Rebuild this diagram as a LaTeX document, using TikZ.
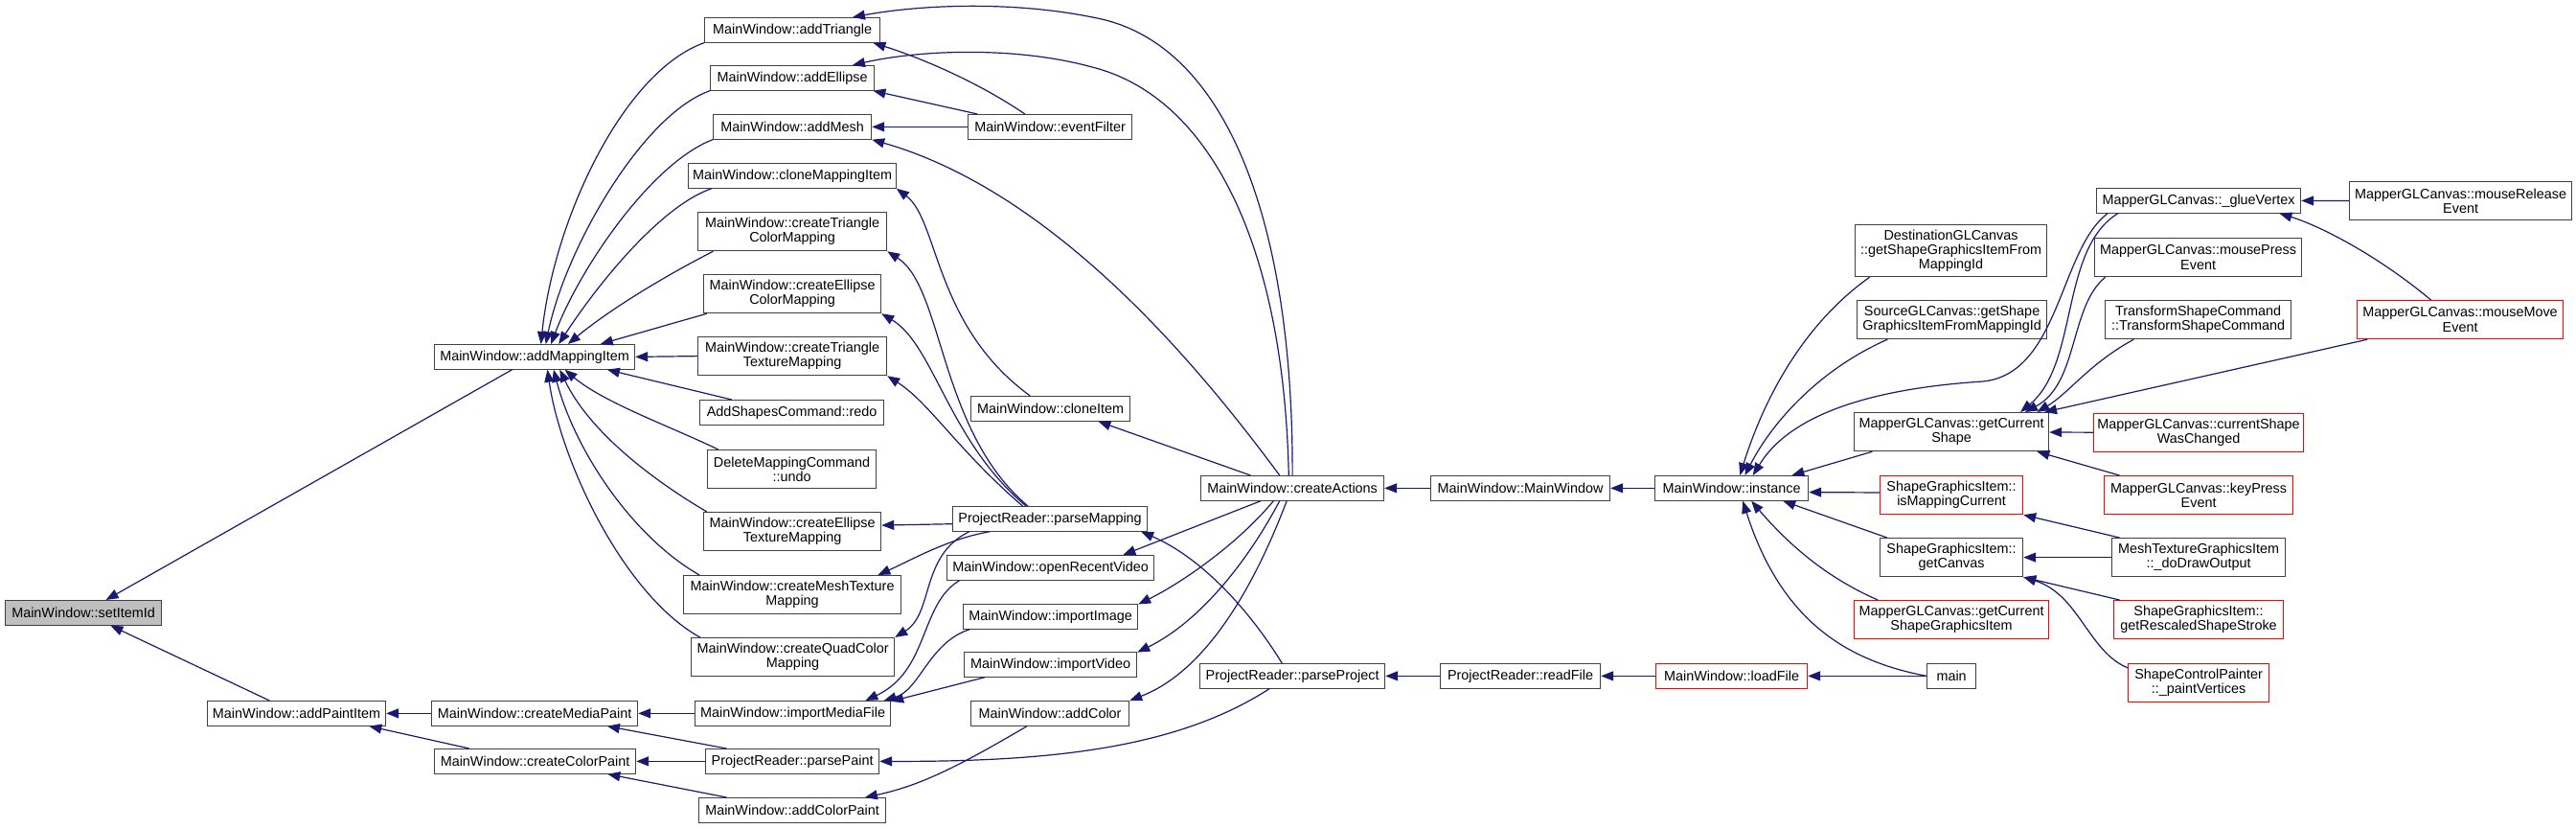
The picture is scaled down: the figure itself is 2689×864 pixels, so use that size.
\documentclass[tikz,border=0pt]{standalone}
\usepackage{fontspec}
\setmainfont{Liberation Sans}
\usetikzlibrary{arrows.meta}
\definecolor{edgeblue}{HTML}{191970}

\begin{document}
\begin{tikzpicture}[x=0.5pt,y=-0.5pt,
    fn/.style={draw=black!75, line width=0.6pt, fill=white, anchor=north west, inner sep=0pt,
      minimum height=12.75pt, align=center, font=\fontsize{7.2}{7.6}\selectfont},
    fnred/.style={fn, draw=red},
    cl/.style={draw=edgeblue, line width=0.6pt, -{Triangle[length=6.5pt,width=5pt]}}]
    \useasboundingbox (0,0) rectangle (2689,864);
    % first columns
    \node[fn, fill=black!25, minimum width=81.5pt] (setItemId) at (5,626) {MainWindow::setItemId};
    \node[fn, minimum width=104.5pt] (mapItem) at (453,359) {MainWindow::addMappingItem};
    \node[fn, minimum width=93pt] (addPaintItem) at (216,731) {MainWindow::addPaintItem};
    \node[fn, minimum width=107.5pt] (createMediaPaint) at (450,731) {MainWindow::createMediaPaint};
    \node[fn, minimum width=105pt] (createColorPaint) at (453,781) {MainWindow::createColorPaint};
    % third column
    \node[fn, minimum width=91.5pt] (addTriangle) at (735,18) {MainWindow::addTriangle};
    \node[fn, minimum width=85.5pt] (addEllipse) at (741,68) {MainWindow::addEllipse};
    \node[fn, minimum width=82.5pt] (addMesh) at (744,119) {MainWindow::addMesh};
    \node[fn, minimum width=108.5pt] (cloneMappingItem) at (718,170) {MainWindow::cloneMappingItem};
    \node[fn, minimum width=98.5pt, minimum height=20pt] (createTriColor) at (728,221) {MainWindow::createTriangle\\ColorMapping};
    \node[fn, minimum width=92.5pt, minimum height=20pt] (createEllColor) at (734,286) {MainWindow::createEllipse\\ColorMapping};
    \node[fn, minimum width=98.5pt, minimum height=20pt] (createTriTexture) at (728,351) {MainWindow::createTriangle\\TextureMapping};
    \node[fn, minimum width=96pt] (addShapesRedo) at (730,417) {AddShapesCommand::redo};
    \node[fn, minimum width=88pt, minimum height=20pt] (deleteUndo) at (738,469) {DeleteMappingCommand\\::undo};
    \node[fn, minimum width=92.5pt, minimum height=20pt] (createEllTexture) at (734,534) {MainWindow::createEllipse\\TextureMapping};
    \node[fn, minimum width=113.5pt, minimum height=20pt] (createMeshTexture) at (713,600) {MainWindow::createMeshTexture\\Mapping};
    \node[fn, minimum width=106pt, minimum height=20pt] (createQuadColor) at (721,665) {MainWindow::createQuadColor\\Mapping};
    \node[fn, minimum width=102pt] (importMediaFile) at (725,731) {MainWindow::importMediaFile};
    \node[fn, minimum width=90.5pt] (parsePaint) at (736,781) {ProjectReader::parsePaint};
    \node[fn, minimum width=97.5pt] (addColorPaint) at (729,832) {MainWindow::addColorPaint};
    % fourth column
    \node[fn, minimum width=85.5pt] (eventFilter) at (1010,119) {MainWindow::eventFilter};
    \node[fn, minimum width=83pt] (cloneItem) at (1013,413) {MainWindow::cloneItem};
    \node[fn, minimum width=101.5pt] (parseMapping) at (994,528) {ProjectReader::parseMapping};
    \node[fn, minimum width=108pt] (openRecentVideo) at (988,579) {MainWindow::openRecentVideo};
    \node[fn, minimum width=91pt] (importImage) at (1005,630) {MainWindow::importImage};
    \node[fn, minimum width=90pt] (importVideo) at (1006,680) {MainWindow::importVideo};
    \node[fn, minimum width=82.5pt] (addColor) at (1013,731) {MainWindow::addColor};
    % middle
    \node[fn, minimum width=95.5pt] (createActions) at (1253,496) {MainWindow::createActions};
    \node[fn, minimum width=96.5pt] (parseProject) at (1252,692) {ProjectReader::parseProject};
    \node[fn, minimum width=93.5pt] (mainWindow) at (1493,496) {MainWindow::MainWindow};
    \node[fn, minimum width=83.5pt] (readFile) at (1503,692) {ProjectReader::readFile};
    \node[fn, minimum width=80pt] (instance) at (1727,496) {MainWindow::instance};
    \node[fnred, minimum width=79pt] (loadFile) at (1728,692) {MainWindow::loadFile};
    % canvas column
    \node[fn, minimum width=100pt, minimum height=27pt] (destCanvas) at (1936,234) {DestinationGLCanvas\\::getShapeGraphicsItemFrom\\MappingId};
    \node[fn, minimum width=99pt, minimum height=20pt] (srcCanvas) at (1938,313) {SourceGLCanvas::getShape\\GraphicsItemFromMappingId};
    \node[fn, minimum width=101.5pt, minimum height=20pt] (getCurrentShape) at (1935,430) {MapperGLCanvas::getCurrent\\Shape};
    \node[fnred, minimum width=74.5pt, minimum height=20pt] (isMappingCurrent) at (1962,496) {ShapeGraphicsItem::\\isMappingCurrent};
    \node[fn, minimum width=74.5pt, minimum height=20pt] (getCanvas) at (1962,561) {ShapeGraphicsItem::\\getCanvas};
    \node[fnred, minimum width=101.5pt, minimum height=20pt] (getCurrentSGI) at (1935,626) {MapperGLCanvas::getCurrent\\ShapeGraphicsItem};
    \node[fn, minimum width=25.5pt] (main) at (2011,692) {main};
    % right columns
    \node[fn, minimum width=106.5pt] (glueVertex) at (2188,196) {MapperGLCanvas::\_glueVertex};
    \node[fn, minimum width=108pt, minimum height=20pt] (mousePress) at (2186,248) {MapperGLCanvas::mousePress\\Event};
    \node[fn, minimum width=97pt, minimum height=20pt] (transformCmd) at (2197,313) {TransformShapeCommand\\::TransformShapeCommand};
    \node[fnred, minimum width=109.5pt, minimum height=20pt] (shapeChanged) at (2185,431) {MapperGLCanvas::currentShape\\WasChanged};
    \node[fnred, minimum width=98.5pt, minimum height=20pt] (keyPress) at (2196,496) {MapperGLCanvas::keyPress\\Event};
    \node[fn, minimum width=90.5pt, minimum height=20pt] (meshDraw) at (2204,561) {MeshTextureGraphicsItem\\::\_doDrawOutput};
    \node[fnred, minimum width=88.5pt, minimum height=20pt] (rescaledStroke) at (2206,626) {ShapeGraphicsItem::\\getRescaledShapeStroke};
    \node[fnred, minimum width=73.5pt, minimum height=20pt] (paintVertices) at (2221,692) {ShapeControlPainter\\::\_paintVertices};
    \node[fn, minimum width=116pt, minimum height=20pt] (mouseRelease) at (2452,189) {MapperGLCanvas::mouseRelease\\Event};
    \node[fnred, minimum width=107.5pt, minimum height=20pt] (mouseMove) at (2460,313) {MapperGLCanvas::mouseMove\\Event};

    % callers of setItemId
    \draw[cl] (mapItem) -- (setItemId);
    \draw[cl] (addPaintItem) -- (setItemId);
    % callers of addMappingItem
    \draw[cl] (addTriangle.south west) .. controls (650,75) and (578,230) .. (mapItem.64);
    \draw[cl] (addEllipse.south west) .. controls (670,120) and (590,260) .. (mapItem.49);
    \draw[cl] (addMesh.south west) .. controls (680,170) and (605,280) .. (mapItem.38);
    \draw[cl] (cloneMappingItem.189) .. controls (690,215) and (625,295) .. (mapItem.28);
    \draw[cl] (createTriColor.194) .. controls (700,285) and (640,320) .. (mapItem.21);
    \draw[cl] (createEllColor.193) -- (mapItem.11);
    \draw[cl] (createTriTexture.west) -- (mapItem.east);
    \draw[cl] (addShapesRedo.168) -- (mapItem.-10.5);
    \draw[cl] (deleteUndo.165) .. controls (700,445) and (630,420) .. (mapItem.-23);
    \draw[cl] (createEllTexture.167) .. controls (680,500) and (615,450) .. (mapItem.-27);
    \draw[cl] (createMeshTexture.168) .. controls (660,560) and (600,470) .. (mapItem.-34);
    \draw[cl] (createQuadColor.168) .. controls (650,620) and (585,480) .. (mapItem.-45);
    % paint items
    \draw[cl] (createMediaPaint) -- (addPaintItem);
    \draw[cl] (createColorPaint.169) -- (addPaintItem.-10);
    \draw[cl] (importMediaFile) -- (createMediaPaint);
    \draw[cl] (parsePaint.169) -- (createMediaPaint.-10);
    \draw[cl] (parsePaint) -- (createColorPaint);
    \draw[cl] (addColorPaint.169) -- (createColorPaint.-10);
    % shapes
    \draw[cl] (eventFilter.153) .. controls (1020,85) and (960,60) .. (addTriangle.-9);
    \draw[cl] (createActions.north) .. controls (1350,230) and (1280,50) .. (1150,20)
        .. controls (1060,0) and (960,5) .. (addTriangle.12);
    \draw[cl] (eventFilter.170) -- (addEllipse.-9);
    \draw[cl] (createActions.106) .. controls (1340,250) and (1260,100) .. (1140,70)
        .. controls (1060,48) and (960,52) .. (addEllipse.12);
    \draw[cl] (eventFilter) -- (addMesh);
    \draw[cl] (createActions.135) .. controls (1250,380) and (1100,200) .. (addMesh.south east);
    \draw[cl] (cloneItem.148) .. controls (975,340) and (980,230) .. (cloneMappingItem.-7);
    \draw[cl] (createActions.163) -- (cloneItem.-15);
    % mappings
    \draw[cl] (parseMapping.150) .. controls (980,450) and (985,300) .. (createTriColor.south east);
    \draw[cl] (parseMapping.152) .. controls (990,460) and (975,360) .. (createEllColor.south east);
    \draw[cl] (parseMapping.155) .. controls (1000,470) and (970,420) .. (createTriTexture.south east);
    \draw[cl] (parseMapping.183) -- (createEllTexture.4);
    \draw[cl] (parseMapping.192) .. controls (990,562) and (950,585) .. (createMeshTexture.13);
    \draw[cl] (parseMapping.189) .. controls (960,580) and (975,640) .. (createQuadColor.north east);
    % media
    \draw[cl] (openRecentVideo.188) .. controls (960,630) and (970,700) .. (importMediaFile.10);
    \draw[cl] (importImage.189) .. controls (970,670) and (960,720) .. (importMediaFile.8.5);
    \draw[cl] (importVideo.191) -- (importMediaFile.7.5);
    \draw[cl] (addColor.209) .. controls (1000,800) and (960,820) .. (addColorPaint.10);
    \draw[cl] (parseProject.209) .. controls (1230,780) and (1100,795) .. (parsePaint.east);
    \draw[cl] (parseProject.129) .. controls (1300,630) and (1250,580) .. (parseMapping.-8.5);
    \draw[cl] (createActions.202) -- (openRecentVideo.10);
    \draw[cl] (createActions.214) .. controls (1290,570) and (1230,610) .. (importImage.8.5);
    \draw[cl] (createActions.225) .. controls (1300,590) and (1250,650) .. (importVideo.8.4);
    \draw[cl] (createActions.246) .. controls (1310,610) and (1260,700) .. (addColor.north east);
    % chains
    \draw[cl] (mainWindow) -- (createActions);
    \draw[cl] (instance) -- (mainWindow);
    \draw[cl] (readFile) -- (parseProject);
    \draw[cl] (loadFile) -- (readFile);
    \draw[cl] (main) -- (loadFile);
    % callers of instance
    \draw[cl] (destCanvas.198) .. controls (1880,340) and (1840,420) .. (instance.57);
    \draw[cl] (srcCanvas.197) .. controls (1900,385) and (1850,440) .. (instance.44);
    \draw[cl] (glueVertex.188) .. controls (2150,260) and (2150,390) .. (2070,398)
        .. controls (1960,405) and (1870,430) .. (instance.31);
    \draw[cl] (getCurrentShape.194) -- (instance.12);
    \draw[cl] (isMappingCurrent.178) -- (instance.-3);
    \draw[cl] (getCanvas.163) -- (instance.-14);
    \draw[cl] (getCurrentSGI.165) .. controls (1900,600) and (1860,560) .. (instance.-33);
    \draw[cl] (main.west) .. controls (1930,690) and (1860,650) .. (instance.-49);
    % callers of getCurrentShape
    \draw[cl] (glueVertex.189) .. controls (2150,260) and (2170,380) .. (getCurrentShape.16);
    \draw[cl] (mousePress.192) .. controls (2160,320) and (2170,400) .. (getCurrentShape.15);
    \draw[cl] (transformCmd.197) .. controls (2180,380) and (2160,410) .. (getCurrentShape.13);
    \draw[cl] (mouseMove.192) -- (getCurrentShape.12);
    \draw[cl] (shapeChanged) -- (getCurrentShape);
    \draw[cl] (keyPress.166) -- (getCurrentShape.-13);
    % right side
    \draw[cl] (mouseRelease) -- (glueVertex);
    \draw[cl] (mouseMove.146) .. controls (2480,265) and (2420,235) .. (glueVertex.-9.5);
    \draw[cl] (meshDraw.166) -- (isMappingCurrent.south east);
    \draw[cl] (meshDraw) -- (getCanvas);
    \draw[cl] (rescaledStroke.166) -- (getCanvas.south east);
    \draw[cl] (paintVertices.168) .. controls (2180,680) and (2170,620) .. (getCanvas.south east);
\end{tikzpicture}
\end{document}
